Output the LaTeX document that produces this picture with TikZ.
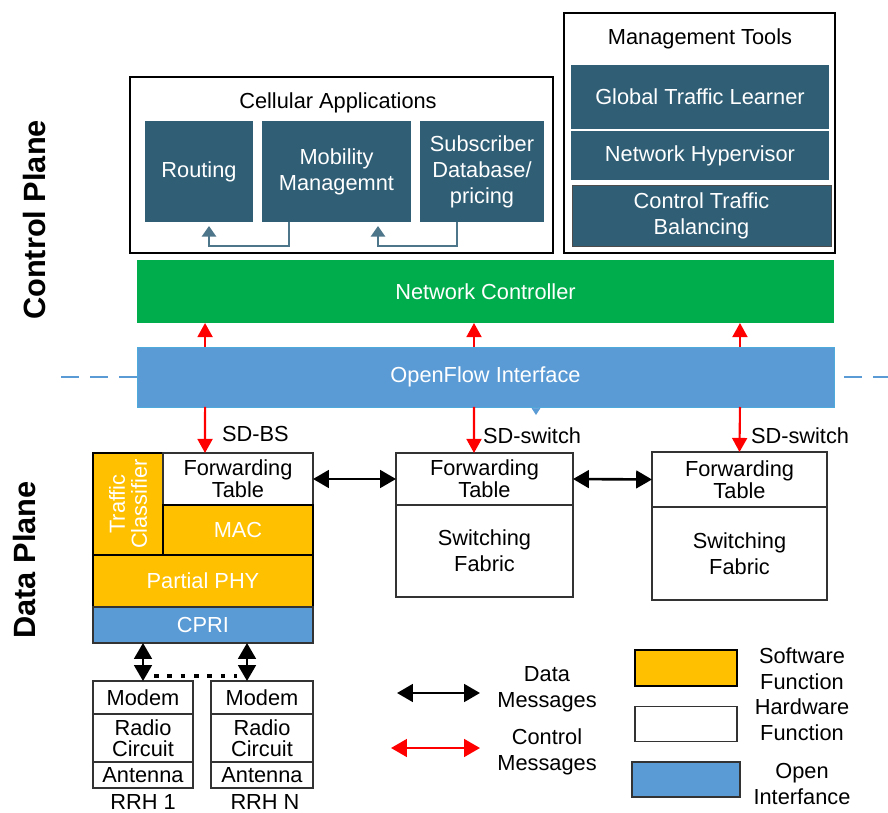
\documentclass[tikz,border=0pt]{standalone}
\usepackage{fontspec}
\setmainfont{Liberation Sans}
\usetikzlibrary{arrows.meta,positioning}

\definecolor{appteal}{RGB}{47,94,117}
\definecolor{ctrlgreen}{RGB}{0,173,76}
\definecolor{ofblue}{RGB}{91,155,213}
\definecolor{swyellow}{RGB}{255,192,0}

\begin{document}
\begin{tikzpicture}[x=0.02cm, y=-0.02cm,
	font=\fontsize{12.4}{14.8}\selectfont,
	every node/.style={inner sep=0pt, outer sep=0pt},
	sz/.style 2 args={minimum width=#1*0.02cm, minimum height=#2*0.02cm},
	outer/.style={draw=black, line width=1.3pt},
	app/.style={fill=appteal, text=white, align=center},
	hw/.style={draw=black!80, line width=1pt, fill=white, align=center},
	sw/.style={draw=black, line width=1pt, fill=swyellow, text=white, align=center},
	oi/.style={draw=black!80, line width=1pt, fill=ofblue, text=white},
	tight/.style={font=\fontsize{12.4}{11.4}\selectfont},
	plane/.style={rotate=90, font=\bfseries\fontsize{17.5}{20}\selectfont},
	apparrow/.style={-{Triangle[length=6pt,width=8pt]}, appteal!85!white, line width=1.2pt},
	data/.style={{Triangle[length=9pt,width=10pt]}-{Triangle[length=9pt,width=10pt]}, line width=1.5pt},
	ctrl/.style={-{Triangle[length=8pt,width=8.5pt]}, red, line width=1.2pt},
	ctrlboth/.style={{Triangle[length=9pt,width=10pt]}-{Triangle[length=9pt,width=10pt]}, red, line width=1.4pt},
	planeline/.style={ofblue, line width=1pt, dash pattern=on 0.36cm off 0.22cm}]
	\useasboundingbox (0,0) rectangle (888,813);

	\node[plane] (cpl) at (35,220) {Control Plane};
	\node[plane] (dpl) at (25,560) {Data Plane};

	\node[outer, sz={423}{176}] (capp) at (341.5,165) {};
	\node (capt) at (338,103) {Cellular Applications};
	\node[app, sz={108}{101}] (rout) at (199,171.5) {Routing};
	\node[app, sz={149}{101}] (mob) at (336.5,171.5) {Mobility\\Managemnt};
	\node[app, sz={124}{101}] (subs) at (482,171.5) {Subscriber\\Database/\\pricing};
	\draw[apparrow] ([xshift=-0.95cm]mob.south) -- ++(0,24) -| ([xshift=0.2cm,yshift=-0.08cm]rout.south);
	\draw[apparrow] ([xshift=-0.5cm]subs.south) -- ++(0,24) -| ([xshift=0.83cm,yshift=-0.08cm]mob.south);

	\node[outer, line width=1.5pt, sz={271}{240}] (mgmt) at (699.5,133) {};
	\node (mgt) at (700,39) {Management Tools};
	\node[app, sz={258}{64}] (gtl) at (700,97) {Global Traffic Learner};
	\node[app, sz={258}{49}] (hyp) at (700,155.5) {Network Hypervisor};
	\node[app, draw=black!70, sz={259}{61}] (ctb) at (701.5,215.5) {Control Traffic\\Balancing};

	\node[fill=ctrlgreen, text=white, sz={697}{63}] (nc) at (485.5,291.5) {Network Controller};
	\node[fill=ofblue, draw=ofblue!85!cyan, text=white, sz={697}{60}] (ofi) at (485.5,377) {OpenFlow Interface};

	\coordinate (dl) at (58,377);
	\coordinate (dr) at (888,377);
	\draw[planeline] (ofi.west) -- (dl);
	\draw[planeline] ([xshift=0.2cm]ofi.east) -- (dr);

	\foreach \dx in {-5.61,-0.23,5.09}
		\draw[ctrl] ([xshift=\dx cm]ofi.north) -- ([xshift=\dx cm]nc.south);
	\draw[-{Triangle[length=4pt,width=5pt]}, ofblue] ([xshift=1.01cm]ofi.south) -- ++(0,8);

	% SD-BS
	\node[sw, rotate=90, sz={102}{70}, font=\fontsize{12.4}{12.5}\selectfont] (tc) at (128,504) {Traffic\\Classifier};
	\node[hw, tight, sz={150}{52}] (bsft) at (238,479) {Forwarding\\Table};
	\node[sw, sz={150}{50}] (mac) at (238,530) {MAC};
	\node[sw, sz={220}{52}] (phy) at (203,581) {Partial PHY};
	\node[oi, sz={220}{36}] (cpri) at (203,625) {CPRI};
	\node[anchor=west] (lbs) at (222,434) {SD-BS};

	% switches
	\node[hw, tight, sz={177}{52}] (s1ft) at (484.5,479) {Forwarding\\Table};
	\node[hw, sz={177}{92}] (s1sf) at (484.5,551) {Switching\\Fabric};
	\node[hw, tight, sz={175}{55}] (s2ft) at (739.5,479.5) {Forwarding\\Table};
	\node[hw, sz={175}{93}] (s2sf) at (739.5,553.5) {Switching\\Fabric};
	\node[anchor=west] (lsw1) at (483,436) {SD-switch};
	\node[anchor=west] (lsw2) at (751,436) {SD-switch};

	\draw[ctrl] ([xshift=-5.61cm]ofi.south) -- ([xshift=-0.66cm]bsft.north);
	\draw[ctrl] ([xshift=-0.23cm]ofi.south) -- ([xshift=-0.21cm]s1ft.north);
	\draw[ctrl] ([xshift=5.09cm]ofi.south) -- (s2ft.north);
	\draw[data] (bsft.east) -- (s1ft.west);
	\draw[data] (s1ft.east) -- (s2ft.west);

	% RRHs
	\node[hw, sz={100}{33}] (r1m) at (143,697.5) {Modem};
	\node[hw, sz={100}{48}, font=\fontsize{12.4}{12}\selectfont] (r1r) at (143,738) {Radio\\Circuit};
	\node[hw, sz={100}{26}] (r1a) at (143,775) {Antenna};
	\node[hw, sz={102}{33}] (rNm) at (262,697.5) {Modem};
	\node[hw, sz={102}{48}, font=\fontsize{12.4}{12}\selectfont] (rNr) at (262,738) {Radio\\Circuit};
	\node[hw, sz={102}{26}] (rNa) at (262,775) {Antenna};
	\node[below=0.14cm of r1a] (r1l) {RRH 1};
	\node[below=0.14cm of rNa, xshift=0.06cm] (rNl) {RRH N};

	\coordinate (aN) at ([xshift=-0.3cm]rNm.north);
	\draw[data] (cpri.south -| r1m.north) -- (r1m.north);
	\draw[data] (cpri.south -| aN) -- (aN);
	\draw[line width=2.6pt, dash pattern=on 2.6pt off 5pt] ([xshift=0.22cm,yshift=0.1cm]r1m.north) -- ([xshift=-0.2cm,yshift=0.1cm]aN);

	% legend
	\coordinate (ld1) at (397,693);
	\coordinate (ld2) at (480,693);
	\draw[data] (ld1) -- (ld2);
	\node[align=center] (ldt) at (547,689.5) {Data\\Messages};
	\coordinate (lc1) at (391,748);
	\coordinate (lc2) at (480,748);
	\draw[ctrlboth] (lc1) -- (lc2);
	\node[align=center] (lct) at (547,751.5) {Control\\Messages};

	\node[sw, sz={102}{36}] (lsw) at (686,668) {};
	\node[hw, sz={102}{35}] (lhw) at (686,724) {};
	\node[oi, sz={108}{35}] (loi) at (686,779.5) {};
	\node[align=center] (lswt) at (802,669) {Software\\Function};
	\node[align=center] (lhwt) at (802,720) {Hardware\\Function};
	\node[align=center] (loit) at (802,783.5) {Open\\Interfance};
\end{tikzpicture}
\end{document}
